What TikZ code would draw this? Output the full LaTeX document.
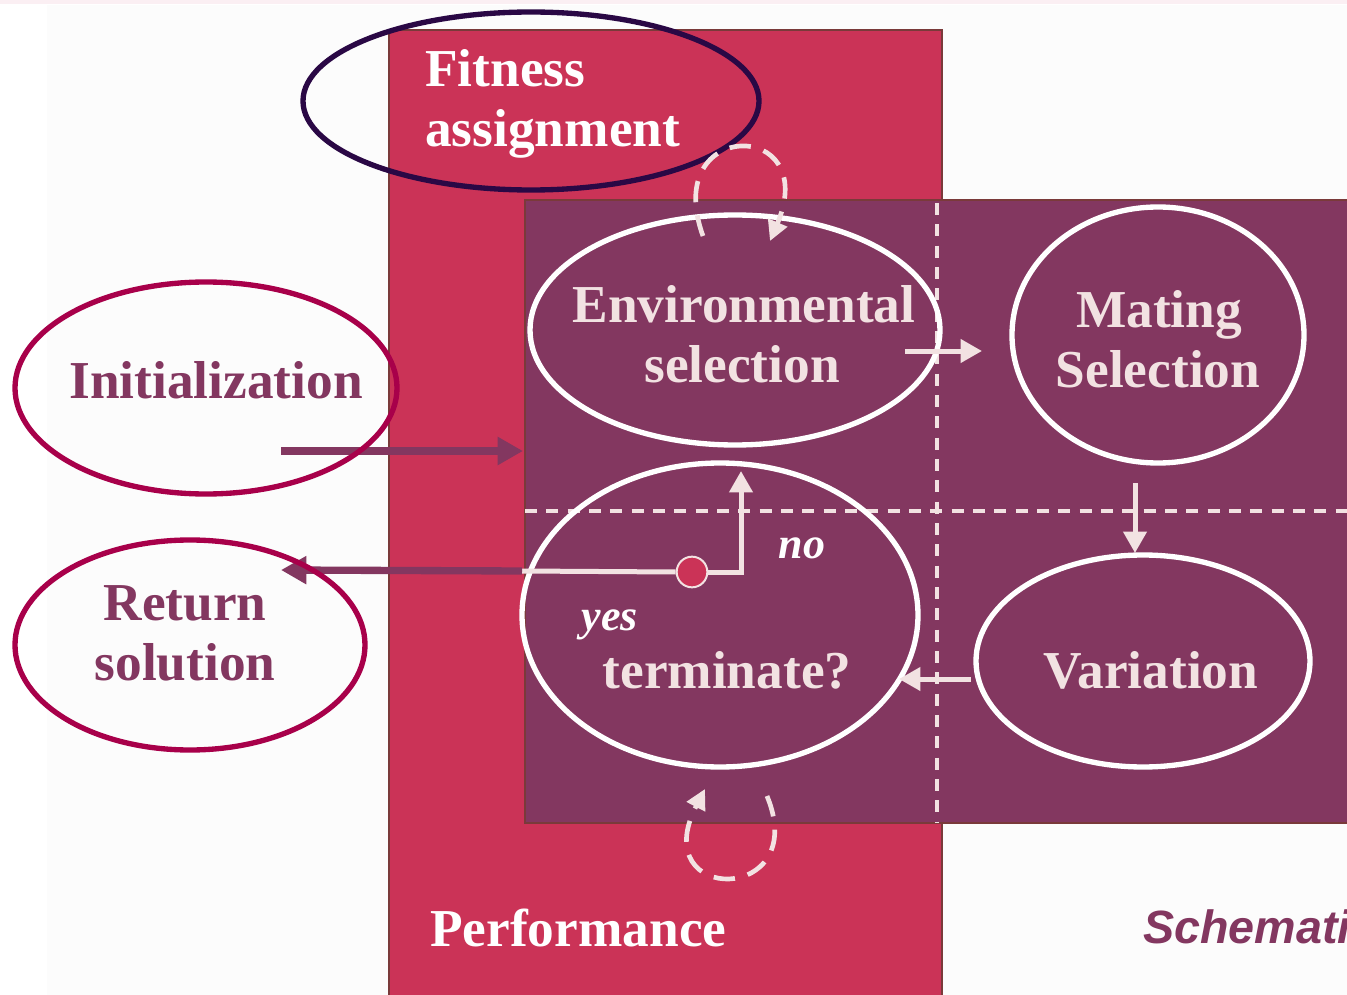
\documentclass[tikz,border=0pt]{standalone}
\usepackage{fontspec}
\setmainfont{Liberation Serif}
\newfontfamily\capfont{Liberation Sans}
\usetikzlibrary{shapes.geometric,arrows.meta}
\definecolor{pinkbox}{HTML}{CB3357}
\definecolor{purplebox}{HTML}{833760}
\definecolor{crim}{HTML}{A8004A}
\definecolor{darkink}{HTML}{2A0845}
\definecolor{pale}{HTML}{F2E2E2}
\definecolor{edgebrown}{HTML}{7A3A3A}
\definecolor{bggrey}{HTML}{FCFCFC}
\definecolor{topline}{HTML}{FBEFF3}
\begin{document}
\begin{tikzpicture}[x=0.75pt,y=-0.75pt,
  oval/.style={ellipse,inner sep=0pt,line width=4pt},
  whiteoval/.style={oval,draw=white},
  crimoval/.style={oval,draw=crim},
  bigtxt/.style={font=\bfseries\fontsize{40}{45}\selectfont,anchor=base,inner sep=0pt},
  paletxt/.style={bigtxt,text=pale},
  inktxt/.style={bigtxt,text=purplebox},
  whitetxt/.style={bigtxt,text=white,anchor=base west},
  smalltxt/.style={font=\bfseries\itshape\fontsize{33}{36}\selectfont,anchor=base,inner sep=0pt,text=white},
  palearrow/.style={draw=pale,line width=3.75pt,-{Triangle[length=16pt,width=17pt]}},
  paleline/.style={draw=pale,line width=3.75pt},
  inkarrow/.style={draw=purplebox,line width=5.5pt,-{Triangle[length=19pt,width=20pt]}},
  loop/.style={draw=pale,line width=3.5pt,dash pattern=on 16pt off 10pt,-{Triangle[length=15pt,width=15pt]}},
  gridline/.style={draw=pale,line width=2.3pt,dash pattern=on 9pt off 7pt},
  box/.style={draw=edgebrown,line width=1.5pt}
]
\useasboundingbox (0,0) rectangle (1347,995);
\clip (0,0) rectangle (1347,995);
% background
\fill[white] (0,0) rectangle (1347,995);
\fill[bggrey] (47,5) rectangle (1347,995);
\fill[topline] (0,0) rectangle (1347,4);
% boxes
\path[box,fill=pinkbox] (389,30) rectangle (942,1000);
\path[box,fill=purplebox] (525,200) rectangle (1360,823);
% grid
\draw[gridline] (937,203) -- (937,823);
\draw[gridline] (525,511) -- (1347,511);
% ellipses in the purple box
\node[whiteoval,minimum width=307.5pt,minimum height=172.5pt] (env) at (735,330) {};
\node[whiteoval,minimum width=219pt,minimum height=192pt] (mat) at (1158,335) {};
\node[whiteoval,minimum width=297pt,minimum height=228pt] (term) at (720,615) {};
\node[whiteoval,minimum width=250.5pt,minimum height=159pt] (var) at (1143,661) {};
% fitness ellipse
\node[oval,draw=darkink,minimum width=342pt,minimum height=133.5pt] (fit) at (531,101) {};
% connectors inside
\coordinate (e1) at (905,351); \coordinate (e2) at (982,351);
\coordinate (m1) at (1135,483); \coordinate (m2) at (1135,553);
\coordinate (v1) at (971,679); \coordinate (v2) at (899,679);
\draw[palearrow] (e1) -- (e2);
\draw[palearrow] (m1) -- (m2);
\draw[palearrow] (v1) -- (v2);
% self loops
\coordinate (t1) at (703,236); \coordinate (t2) at (770,241);
\draw[loop] (t1) .. controls (660,118) and (822,118) .. (t2);
\coordinate (b1) at (767,796); \coordinate (b2) at (705,789);
\draw[loop] (b1) .. controls (812,905) and (645,905) .. (b2);
% decision
\coordinate (yesend) at (522,571);
\coordinate (notip) at (741,471);
\coordinate (rettip) at (281,570);
\coordinate (initstart) at (281,451);
\coordinate (initend) at (523,451);
\node[circle,fill=pinkbox,draw=pale,line width=1.5pt,minimum size=23pt,inner sep=0pt] (dec) at (692,572) {};
\draw[paleline] (dec.west) -- (yesend);
\draw[palearrow] (dec.east) -| (notip);
\draw[inkarrow] (yesend) -- (rettip);
\draw[inkarrow] (initstart) -- (initend);
% left ellipses
\node[crimoval,minimum width=286.5pt,minimum height=159pt] (init) at (206,388) {};
\node[crimoval,minimum width=262.5pt,minimum height=157.5pt] (ret) at (190,645) {};
% texts
\node[whitetxt] (fitA) at (425,87) {Fitness};
\node[whitetxt] (fitB) at (425,147) {assignment};
\node[paletxt] (envA) at (744,322) {Environmental};
\node[paletxt] (envB) at (742,382) {selection};
\node[paletxt] (matA) at (1159,327) {Mating};
\node[paletxt] (matB) at (1158,387) {Selection};
\node[paletxt] (termA) at (727,688) {terminate?};
\node[paletxt] (varA) at (1151,688) {Variation};
\node[inktxt] (initA) at (216,398) {Initialization};
\node[inktxt] (retA) at (185,620) {Return};
\node[inktxt] (retB) at (185,680) {solution};
\node[whitetxt] (perf) at (430,946) {Performance};
\node[smalltxt] (no) at (802,558) {no};
\node[smalltxt] (yes) at (610,630) {yes};
\node[anchor=base west,inner sep=0pt,text=purplebox,font=\capfont\bfseries\itshape\fontsize{35}{40}\selectfont] (cap) at (1143,943) {Schematic};
\end{tikzpicture}
\end{document}
